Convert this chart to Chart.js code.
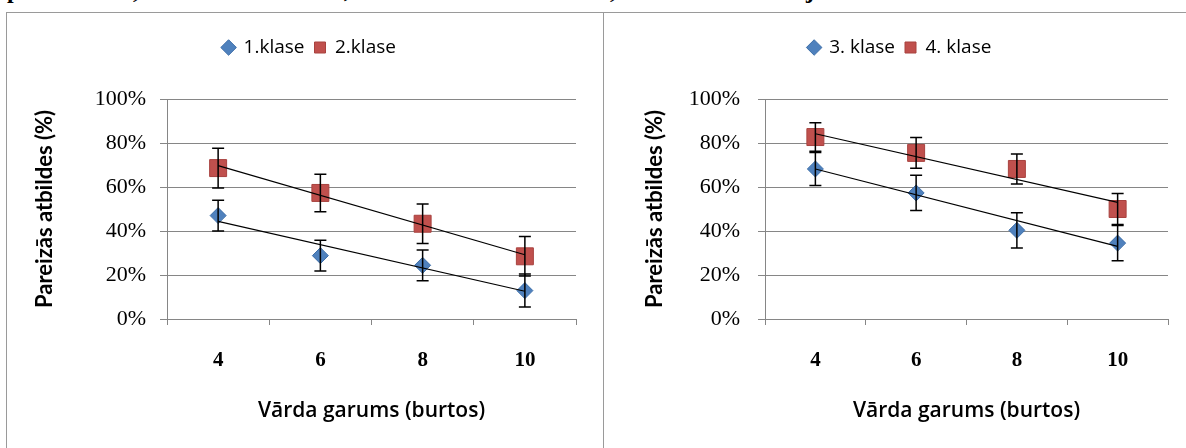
<!DOCTYPE html>
<html>
<head>
<meta charset="utf-8">
<script src="https://cdn.jsdelivr.net/npm/chart.js@4/dist/chart.umd.min.js"></script>
<style>
  html, body { margin: 0; padding: 0; background: #fff; }
  body { width: 1186px; height: 448px; position: relative; overflow: hidden; }
  .cut { position: absolute; left: 0; top: 0; width: 1186px; height: 12px; overflow: hidden; }
  .cut span { position: absolute; top: -22px; font: bold 24px "Liberation Serif", serif; line-height: 24px; color: #000; }
  .panel { position: absolute; top: 12px; height: 436px; border-top: 1px solid #9a9a9a; border-left: 1px solid #9a9a9a; }
  canvas { position: absolute; }
</style>
</head>
<body>
<div class="cut">
  <span style="left:7px">p</span>
  <span style="left:133px">,</span>
  <span style="left:343px">;</span>
  <span style="left:610px">,</span>
  <span style="left:806px">j</span>
</div>
<div class="panel" style="left:6px;width:596px"></div>
<div class="panel" style="left:603px;width:600px"></div>
<canvas id="chartLeft" width="596" height="435" style="left:7px;top:13px"></canvas>
<canvas id="chartRight" width="582" height="435" style="left:604px;top:13px"></canvas>
<script>
const categories = ['4', '6', '8', '10'];
const yTicks = [0, 20, 40, 60, 80, 100];

const klase1 = [47.0, 28.8, 24.4, 12.9];
const klase1Err = [7, 7, 7, 7.5];
const klase2 = [68.6, 57.3, 43.3, 28.5];
const klase2Err = [9, 8.5, 9, 9];
const trend1 = [44.4, 12.6]; // trendline value at 4 and at 10
const trend2 = [69.7, 29.2];

const klase3 = [68.2, 57.3, 40.3, 34.5];
const klase3Err = [7.5, 8, 8, 8];
const klase4 = [82.7, 75.5, 68.2, 50.0];
const klase4Err = [6.5, 7, 6.8, 7];
const trend3 = [68.2, 33.0];
const trend4 = [84.2, 53.0];

const BLUE = '#4f81bd';
const RED = '#c0504d';
const GRID = '#868686';

// vertical error bars with caps, drawn over the markers
const errorBars = {
  id: 'errorBars',
  afterDatasetsDraw(chart) {
    const { ctx, scales: { x, y } } = chart;
    ctx.save();
    ctx.strokeStyle = '#000';
    ctx.lineWidth = 1.5;
    chart.data.datasets.forEach((ds) => {
      if (!ds.errors) return;
      ds.data.forEach((v, i) => {
        const px = x.getPixelForValue(i);
        const top = y.getPixelForValue(v + ds.errors[i]);
        const bot = y.getPixelForValue(v - ds.errors[i]);
        ctx.beginPath();
        ctx.moveTo(px, top); ctx.lineTo(px, bot);
        ctx.moveTo(px - 6, top); ctx.lineTo(px + 6, top);
        ctx.moveTo(px - 6, bot); ctx.lineTo(px + 6, bot);
        ctx.stroke();
      });
    });
    ctx.restore();
  }
};

// fixed legend height and a small sideways shift
function legendBox(height, shift) {
  return {
    id: 'legendBox',
    afterInit(chart) {
      const lg = chart.legend;
      const fit = lg.fit;
      lg.fit = function () { fit.call(this); this.height = height; };
    },
    afterLayout(chart) {
      chart.legend.left += shift;
      chart.legend.right += shift;
    }
  };
}

function trendData(t) {
  return [t[0], null, null, t[1]];
}

function makeChart(id, cfg) {
  const datasets = [
    {
      label: cfg.labelA, data: cfg.seriesA, errors: cfg.errA, showLine: false, order: 2,
      pointStyle: 'rectRot', pointRadius: 8, backgroundColor: BLUE, borderColor: '#3d6ea8',
      pointBackgroundColor: BLUE, pointBorderColor: '#3d6ea8', pointBorderWidth: 1
    },
    {
      label: cfg.labelB, data: cfg.seriesB, errors: cfg.errB, showLine: false, order: 1,
      pointStyle: 'rect', pointRadius: 12, backgroundColor: RED, borderColor: '#a8423f',
      pointBackgroundColor: RED, pointBorderColor: '#a8423f', pointBorderWidth: 1
    },
    { label: '', data: trendData(cfg.trendA), borderColor: '#000', borderWidth: 1.2, pointRadius: 0, spanGaps: true, order: 0 },
    { label: '', data: trendData(cfg.trendB), borderColor: '#000', borderWidth: 1.2, pointRadius: 0, spanGaps: true, order: 0 }
  ];

  return new Chart(document.getElementById(id), {
    type: 'line',
    data: { labels: categories, datasets },
    plugins: [errorBars, legendBox(71, cfg.legendShift)],
    options: {
      responsive: false,
      animation: false,
      events: [],
      devicePixelRatio: 1,
      layout: { padding: { top: 15, right: cfg.padRight, bottom: 0, left: 0 } },
      plugins: {
        tooltip: { enabled: false },
        legend: {
          position: 'top',
          labels: {
            usePointStyle: true,
            boxWidth: 11,
            boxHeight: 11,
            padding: 10,
            color: '#000',
            font: { family: 'Open Sans', size: 19 },
            filter: (item) => item.text !== '',
            sort: (a, b) => a.datasetIndex - b.datasetIndex
          }
        }
      },
      scales: {
        x: {
          type: 'category',
          offset: true,
          grid: { offset: true, drawOnChartArea: false, drawTicks: true, tickLength: 6, color: GRID },
          border: { color: GRID, width: 1 },
          ticks: { color: '#000', padding: 23, font: { family: 'Liberation Serif', size: 21, weight: 'bold' } },
          title: {
            display: true, text: 'Vārda garums (burtos)', color: '#000',
            font: { family: 'Open Sans', size: 21, weight: '600' }, padding: { top: 0, bottom: 24 }
          },
          afterFit: (s) => { s.height = 129; }
        },
        y: {
          min: 0,
          max: 100,
          afterBuildTicks: (s) => { s.ticks = yTicks.map((v) => ({ value: v })); },
          grid: { color: GRID, tickLength: 7 },
          border: { color: GRID, width: 1 },
          ticks: {
            color: '#000', padding: cfg.tickPad,
            font: { family: 'Liberation Serif', size: 22 },
            callback: (v) => v + '%'
          },
          title: {
            display: true, text: 'Pareizās atbildes (%)', color: '#000',
            font: { family: 'Lato', size: 22, weight: 'bold' }, padding: { top: cfg.titlePad, bottom: 0 }
          },
          afterFit: (s) => { s.width = cfg.axisLeft; }
        }
      }
    }
  });
}

makeChart('chartLeft', {
  labelA: '1.klase', labelB: '2.klase',
  seriesA: klase1, errA: klase1Err, seriesB: klase2, errB: klase2Err,
  trendA: trend1, trendB: trend2,
  axisLeft: 160, padRight: 27, tickPad: 14, titlePad: 25, legendShift: 18
});

makeChart('chartRight', {
  labelA: '3. klase', labelB: '4. klase',
  seriesA: klase3, errA: klase3Err, seriesB: klase4, errB: klase4Err,
  trendA: trend3, trendB: trend4,
  axisLeft: 161, padRight: 18, tickPad: 18, titlePad: 38, legendShift: 14
});
</script>
</body>
</html>
